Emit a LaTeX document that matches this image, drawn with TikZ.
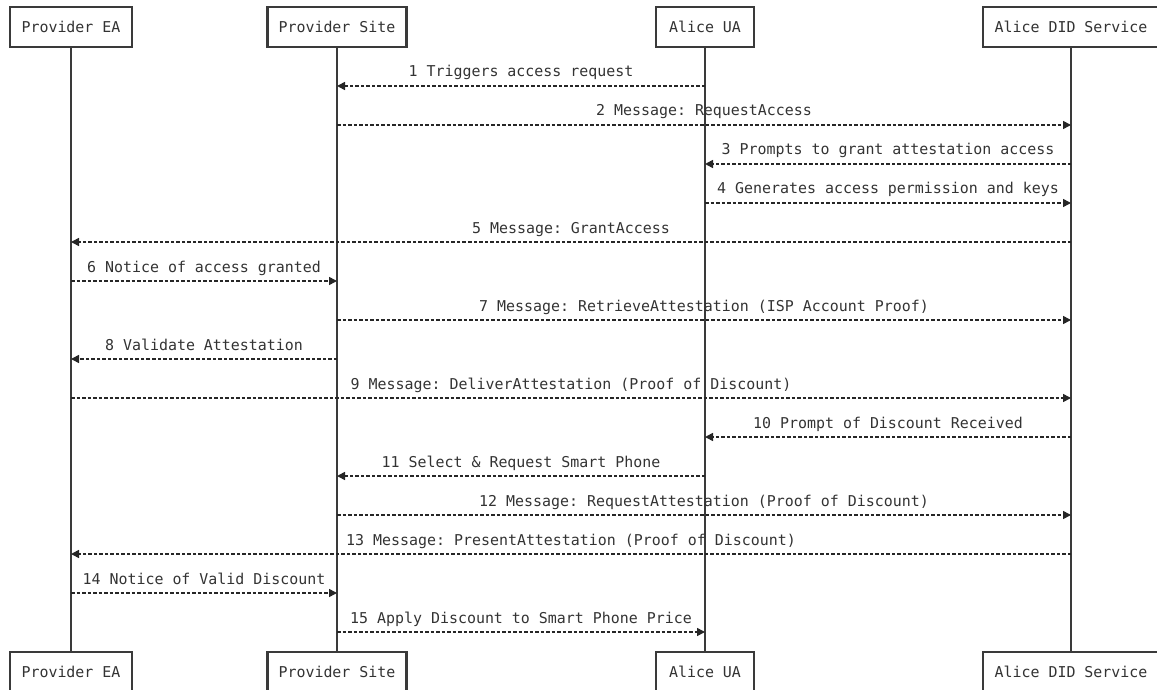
\documentclass[tikz,border=0pt]{standalone}
\usepackage{fontspec}
\setmonofont{DejaVu Sans Mono}
\usetikzlibrary{arrows.meta}
\definecolor{ink}{HTML}{333333}
\definecolor{edge}{HTML}{3a3a3a}
\tikzset{
  actor/.style={draw=edge, line width=2.3bp, fill=white, minimum height=40bp,
    inner xsep=0pt, font=\ttfamily\fontsize{15}{18}\selectfont, text=ink},
  lifeline/.style={draw=edge, line width=2.3bp},
  msg/.style={draw=black!85, line width=1.6bp, dash pattern=on 3.5bp off 2bp,
    -{Triangle[length=8bp,width=8bp]}},
  msglabel/.style={anchor=base, inner sep=0pt, text=ink,
    font=\ttfamily\fontsize{15}{18}\selectfont}
}
\begin{document}
\begin{tikzpicture}[x=1bp,y=-1bp]
\useasboundingbox (0,0) rectangle (1157,690);

% participants, top and bottom
\node[actor, minimum width=122bp] (eaT)   at (71,27)   {Provider EA};
\node[actor, minimum width=139bp] (siteT) at (337,27)  {Provider Site};
\node[actor, minimum width=98bp]  (uaT)   at (705,27)  {Alice UA};
\node[actor, minimum width=176bp] (didT)  at (1071,27) {Alice DID Service};

\node[actor, minimum width=122bp] (eaB)   at (71,672)   {Provider EA};
\node[actor, minimum width=139bp] (siteB) at (337,672)  {Provider Site};
\node[actor, minimum width=98bp]  (uaB)   at (705,672)  {Alice UA};
\node[actor, minimum width=176bp] (didB)  at (1071,672) {Alice DID Service};

% lifelines
\draw[lifeline] (eaT.south) -- (eaB.north);
\draw[lifeline] (siteT.south) -- (siteB.north);
\draw[lifeline] (uaT.south) -- (uaB.north);
\draw[lifeline] (didT.south) -- (didB.north);

% messages: \msgline{from}{to}{y}{label}
\newcommand{\msgline}[4]{%
  \draw[msg] (#1 |- 0,#3) -- node[msglabel, yshift=9bp] {#4} (#2 |- 0,#3);}

\msgline{uaT}{siteT}{86}{1 Triggers access request}
\msgline{siteT}{didT}{125}{2 Message: RequestAccess}
\msgline{didT}{uaT}{164}{3 Prompts to grant attestation access}
\msgline{uaT}{didT}{203}{4 Generates access permission and keys}
\msgline{didT}{eaT}{242}{5 Message: GrantAccess}
\msgline{eaT}{siteT}{281}{6 Notice of access granted}
\msgline{siteT}{didT}{320}{7 Message: RetrieveAttestation (ISP Account Proof)}
\msgline{siteT}{eaT}{359}{8 Validate Attestation}
\msgline{eaT}{didT}{398}{9 Message: DeliverAttestation (Proof of Discount)}
\msgline{didT}{uaT}{437}{10 Prompt of Discount Received}
\msgline{uaT}{siteT}{476}{11 Select \& Request Smart Phone}
\msgline{siteT}{didT}{515}{12 Message: RequestAttestation (Proof of Discount)}
\msgline{didT}{eaT}{554}{13 Message: PresentAttestation (Proof of Discount)}
\msgline{eaT}{siteT}{593}{14 Notice of Valid Discount}
\msgline{siteT}{uaT}{632}{15 Apply Discount to Smart Phone Price}
\end{tikzpicture}
\end{document}
